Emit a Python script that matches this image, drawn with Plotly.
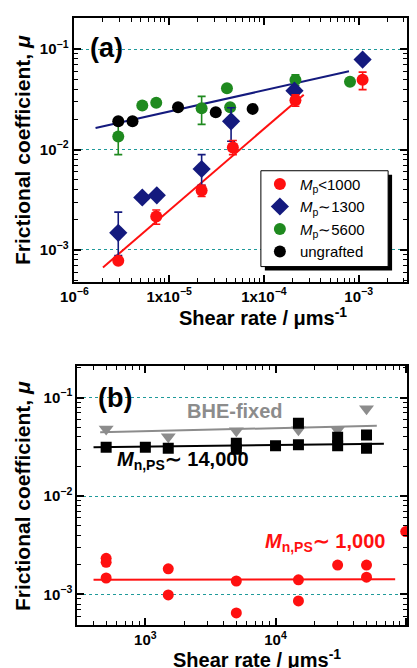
import plotly.graph_objects as go
import numpy as np

FONT = "Liberation Sans, Arial, Helvetica, sans-serif"

# ---------------- Panel (a) data ----------------
red_x = [2.9e-6, 7.3e-6, 2.2e-5, 4.7e-5, 2.15e-4, 1.1e-3]
red_y = [7.8e-4, 2.15e-3, 3.9e-3, 1.05e-2, 3.1e-2, 4.95e-2]
red_ep = [0, 0.35e-3, 0.5e-3, 1.8e-3, 4.0e-3, 9.5e-3]
red_em = [0, 0.35e-3, 0.5e-3, 1.6e-3, 4.0e-3, 10e-3]

blue_x = [2.9e-6, 5.2e-6, 7.4e-6, 2.2e-5, 4.5e-5, 2.1e-4, 1.1e-3]
blue_y = [1.48e-3, 3.33e-3, 3.5e-3, 6.4e-3, 1.91e-2, 3.86e-2, 7.87e-2]
blue_ep = [0.9e-3, 0, 0, 2.5e-3, 7e-3, 0, 0]
blue_em = [0.6e-3, 0, 0, 2.0e-3, 7e-3, 0, 0]

green_x = [2.9e-6, 5.2e-6, 7.3e-6, 2.2e-5, 4.07e-5, 4.4e-5, 2.15e-4, 8.1e-4]
green_y = [1.35e-2, 2.74e-2, 2.92e-2, 2.58e-2, 4.07e-2, 2.64e-2, 4.94e-2, 4.72e-2]
green_ep = [4.2e-3, 0, 0, 8e-3, 0, 0, 6e-3, 0]
green_em = [4.6e-3, 0, 0, 8e-3, 0, 0, 6e-3, 0]

black_x = [2.9e-6, 4.1e-6, 1.24e-5, 3.1e-5, 7.6e-5]
black_y = [1.91e-2, 1.91e-2, 2.64e-2, 2.35e-2, 2.54e-2]

red_fit_x = [2.0e-6, 2.63e-4]
red_fit_y = [6.7e-4, 3.52e-2]
blue_fit_x = [1.67e-6, 7.9e-4]
blue_fit_y = [1.64e-2, 6.01e-2]

# ---------------- Panel (b) data ----------------
bhe_x = [500, 1500, 5000, 15000, 30000, 50000]
bhe_y = [0.048, 0.040, 0.046, 0.047, 0.047, 0.077]
bhe_fit_x = [450, 60000]
bhe_fit_y = [0.0444, 0.0517]

ps14k_x = [500, 1000, 1500, 5000, 5000, 10000, 15000, 15000, 30000, 30000, 50000, 50000]
ps14k_y = [0.0313, 0.0313, 0.0306, 0.0343, 0.0299, 0.0323, 0.0547, 0.0331, 0.0395, 0.0323, 0.0417, 0.0306]
ps14k_fit_x = [400, 68000]
ps14k_fit_y = [0.0313, 0.0339]

ps1k_x = [500, 500, 500, 1500, 1500, 5000, 5000, 15000, 15000, 30000, 50000, 50000, 100000]
ps1k_y = [2.33e-3, 2.12e-3, 1.47e-3, 1.82e-3, 0.99e-3, 1.37e-3, 0.65e-3, 1.41e-3, 0.86e-3, 1.99e-3, 1.99e-3, 1.5e-3, 4.35e-3]
ps1k_fit_x = [400, 83000]
ps1k_fit_y = [1.41e-3, 1.43e-3]

# tick labels
xa_tickvals = [1e-6, 1e-5, 1e-4, 1e-3]
xa_ticktext = ["10<sup>−6</sup>", "1x10<sup>−5</sup>", "1x10<sup>−4</sup>", "10<sup>−3</sup>"]
xb_tickvals = [1e3, 1e4, 1e5]
xb_ticktext = ["10<sup>3</sup>", "10<sup>4</sup>", "10<sup>5</sup>"]
y_tickvals = [1e-3, 1e-2, 1e-1]
y_ticktext = ["10<sup>−3</sup>", "10<sup>−2</sup>", "10<sup>−1</sup>"]

legend_names = ["<i>M</i><sub>p</sub>&lt;1000", "<i>M</i><sub>p</sub>∼1300",
                "<i>M</i><sub>p</sub>∼5600", "ungrafted"]

RED = "#ff1010"
NAVY = "#141a7e"
GREEN = "#1f8a1f"
GRAY = "#8c8c8c"
GRID = "#1f9a9a"

# the page body has an 8px margin, so the figure is shrunk by that amount
BODY = 8


def minor_vals(e0, e1):
    return [k * 10.0 ** e for e in range(e0, e1 + 1) for k in range(2, 10)]


def px_x(p):
    return (p - 73) / 336


def px_y(p):
    return 1 - (p - 17) / 608


fig = go.Figure()


def err(p, m, c):
    return dict(type="data", array=p, arrayminus=m, symmetric=False,
                color=c, thickness=1.6, width=4)

# panel (a)
fig.add_trace(go.Scatter(x=red_fit_x, y=red_fit_y, mode="lines", line=dict(color=RED, width=2),
                         showlegend=False, xaxis="x", yaxis="y"))
fig.add_trace(go.Scatter(x=blue_fit_x, y=blue_fit_y, mode="lines", line=dict(color=NAVY, width=2),
                         showlegend=False, xaxis="x", yaxis="y"))
fig.add_trace(go.Scatter(x=green_x, y=green_y, mode="markers", name=legend_names[2],
                         marker=dict(color=GREEN, size=12, symbol="circle"),
                         error_y=err(green_ep, green_em, GREEN), legendrank=3, xaxis="x", yaxis="y"))
fig.add_trace(go.Scatter(x=black_x, y=black_y, mode="markers", name=legend_names[3],
                         marker=dict(color="black", size=12, symbol="circle"),
                         legendrank=4, xaxis="x", yaxis="y"))
fig.add_trace(go.Scatter(x=blue_x, y=blue_y, mode="markers", name=legend_names[1],
                         marker=dict(color=NAVY, size=14, symbol="diamond"),
                         error_y=err(blue_ep, blue_em, NAVY), legendrank=2, xaxis="x", yaxis="y"))
fig.add_trace(go.Scatter(x=red_x, y=red_y, mode="markers", name=legend_names[0],
                         marker=dict(color=RED, size=12, symbol="circle"),
                         error_y=err(red_ep, red_em, RED), legendrank=1, xaxis="x", yaxis="y"))

# panel (b)
fig.add_trace(go.Scatter(x=bhe_fit_x, y=bhe_fit_y, mode="lines", line=dict(color=GRAY, width=2),
                         showlegend=False, xaxis="x2", yaxis="y2"))
fig.add_trace(go.Scatter(x=ps14k_fit_x, y=ps14k_fit_y, mode="lines", line=dict(color="black", width=2),
                         showlegend=False, xaxis="x2", yaxis="y2"))
fig.add_trace(go.Scatter(x=ps1k_fit_x, y=ps1k_fit_y, mode="lines", line=dict(color=RED, width=2),
                         showlegend=False, xaxis="x2", yaxis="y2"))
fig.add_trace(go.Scatter(x=bhe_x, y=bhe_y, mode="markers", marker=dict(color=GRAY, size=13, symbol="triangle-down"),
                         showlegend=False, xaxis="x2", yaxis="y2"))
fig.add_trace(go.Scatter(x=ps14k_x, y=ps14k_y, mode="markers", marker=dict(color="black", size=11, symbol="square"),
                         showlegend=False, xaxis="x2", yaxis="y2"))
fig.add_trace(go.Scatter(x=ps1k_x, y=ps1k_y, mode="markers", marker=dict(color=RED, size=11, symbol="circle"),
                         showlegend=False, xaxis="x2", yaxis="y2"))

axis_common = dict(type="log", showline=True, linecolor="black", linewidth=2, mirror="ticks",
                   ticks="inside", ticklen=7, tickwidth=1.5, tickcolor="black",
                   tickfont=dict(family=FONT, size=15, color="black", weight="bold"),
                   zeroline=False)
minor_common = dict(tickmode="array", ticks="inside", ticklen=4, tickwidth=1,
                    tickcolor="black", showgrid=False)

fig.update_layout(
    width=417 - BODY, height=668 - BODY,
    margin=dict(l=73 - BODY, r=8, t=17 - BODY, b=43),
    paper_bgcolor="white", plot_bgcolor="white",
    font=dict(family=FONT, color="black"),
    xaxis=dict(axis_common, domain=[0.0015, 1.0], range=[-6.01, -2.49], anchor="y",
               tickmode="array", tickvals=xa_tickvals, ticktext=xa_ticktext, showgrid=False,
               minor=dict(minor_common, tickvals=minor_vals(-7, -3))),
    yaxis=dict(axis_common, domain=[0.5658, 1.0], range=[-3.315, -0.69], anchor="x",
               tickmode="array", tickvals=y_tickvals, ticktext=y_ticktext,
               showgrid=True, gridcolor=GRID, gridwidth=1.2, griddash="dot",
               minor=dict(minor_common, tickvals=minor_vals(-4, -1))),
    xaxis2=dict(axis_common, domain=[0.0128, 1.0], range=[np.log10(300), 5.01], anchor="y2",
                tickmode="array", tickvals=xb_tickvals, ticktext=xb_ticktext, showgrid=False,
                minor=dict(minor_common, tickvals=minor_vals(2, 5))),
    yaxis2=dict(axis_common, domain=[0.0, 0.426], range=[-3.31, -0.684], anchor="x2",
                tickmode="array", tickvals=y_tickvals, ticktext=y_ticktext,
                showgrid=True, gridcolor=GRID, gridwidth=1.2, griddash="dot",
                minor=dict(minor_common, tickvals=minor_vals(-4, -1))),
    legend=dict(x=px_x(261), y=px_y(167), xanchor="left", yanchor="top",
                bgcolor="rgba(0,0,0,0)", borderwidth=0, itemwidth=30,
                font=dict(family=FONT, size=15, color="black"), tracegroupgap=0),
)

# legend frame with drop shadow
fig.add_shape(type="rect", xref="paper", yref="paper", layer="above",
              x0=px_x(266), x1=px_x(394), y0=px_y(270), y1=px_y(174),
              fillcolor="black", line=dict(width=0))
fig.add_shape(type="rect", xref="paper", yref="paper", layer="above",
              x0=px_x(262), x1=px_x(390), y0=px_y(266), y1=px_y(170),
              fillcolor="white", line=dict(width=1, color="black"))

ann = [
    dict(text="<b>(a)</b>", x=px_x(107), y=px_y(47), size=27, color="black"),
    dict(text="<b>(b)</b>", x=px_x(115), y=px_y(397.5), size=27, color="black"),
    dict(text="<b>BHE-fixed</b>", x=px_x(235.5), y=px_y(410.7), size=20, color=GRAY),
    dict(text="<b>Shear rate / μms<sup>-1</sup></b>", x=px_x(264.5), y=px_y(316), size=20, color="black"),
    dict(text="<b>Shear rate / μms<sup>-1</sup></b>", x=px_x(258), y=px_y(659), size=20, color="black"),
]
for a in ann:
    fig.add_annotation(text=a["text"], x=a["x"], y=a["y"], xref="paper", yref="paper",
                       xanchor="center", yanchor="middle", showarrow=False,
                       font=dict(family=FONT, size=a["size"], color=a["color"]))

fig.add_annotation(text="<b><i>M</i><sub>n,PS</sub>∼ 14,000</b>", x=px_x(115), y=px_y(460),
                   xref="paper", yref="paper", xanchor="left", yanchor="middle", showarrow=False,
                   font=dict(family=FONT, size=20, color="black"))
fig.add_annotation(text="<b><i>M</i><sub>n,PS</sub>∼ 1,000</b>", x=px_x(264), y=px_y(542),
                   xref="paper", yref="paper", xanchor="left", yanchor="middle", showarrow=False,
                   font=dict(family=FONT, size=20, color=RED))

for yc in (149, 495.5):
    fig.add_annotation(text="<b>Frictional coefficient, <i>μ</i></b>", x=px_x(22), y=px_y(yc),
                       xref="paper", yref="paper", xanchor="center", yanchor="middle",
                       textangle=-90, showarrow=False,
                       font=dict(family=FONT, size=21, color="black"))

fig.write_html("out.html")
